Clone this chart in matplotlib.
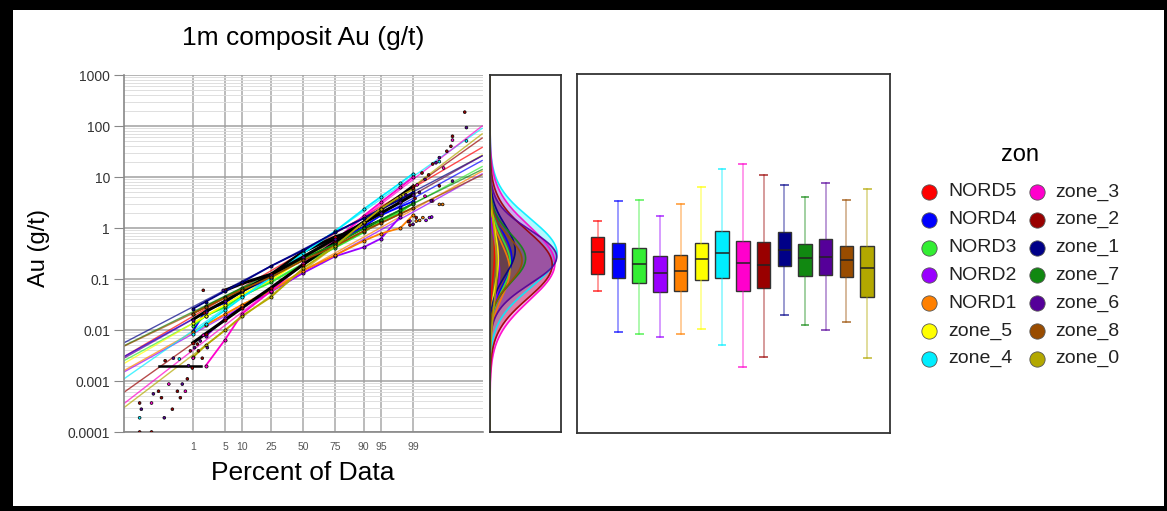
import numpy as np
import matplotlib.pyplot as plt
from matplotlib.lines import Line2D
from matplotlib.patches import Rectangle
from matplotlib.ticker import LogLocator, NullFormatter
from statistics import NormalDist

plt.rcParams['font.family'] = ['Liberation Sans', 'DejaVu Sans']

nan = np.nan

# zonas y colores
zones = ['NORD5', 'NORD4', 'NORD3', 'NORD2', 'NORD1', 'zone_5', 'zone_4',
         'zone_3', 'zone_2', 'zone_1', 'zone_7', 'zone_6', 'zone_8', 'zone_0']
colors = ['#ff0000', '#0000ff', '#33ee33', '#9900ff', '#ff8000', '#ffff00', '#00eeff',
          '#ff00cc', '#990000', '#000088', '#118811', '#550099', '#994c00', '#b3a800']

# estadisticas del boxplot (g/t)
whis_lo = [0.06, 0.0094, 0.0087, 0.0075, 0.0087, 0.0106, 0.0052, 0.0019, 0.003, 0.02, 0.013, 0.0102, 0.0148, 0.0029]
q1 = [0.124, 0.105, 0.086, 0.0565, 0.058, 0.0955, 0.106, 0.058, 0.0675, 0.18, 0.1145, 0.1215, 0.109, 0.0444]
med = [0.338, 0.25, 0.197, 0.131, 0.146, 0.247, 0.319, 0.203, 0.191, 0.365, 0.254, 0.27, 0.232, 0.162]
q3 = [0.667, 0.508, 0.41, 0.278, 0.291, 0.515, 0.86, 0.556, 0.524, 0.822, 0.479, 0.617, 0.438, 0.438]
whis_hi = [1.39, 3.34, 3.54, 1.67, 2.91, 6.37, 13.9, 17.2, 10.9, 6.97, 3.99, 7.39, 3.49, 5.82]
n_samples = [60, 270, 250, 120, 250, 110, 1100, 1150, 1000, 300, 400, 850, 350, 120]

# rectas de ajuste lognormal: valor en los extremos del eje de probabilidad
fit_pct = [0.0078, 99.9922]
fit_lo = [0.003, 0.003, 0.0025, 0.0015, 0.0016, 0.0022, 0.0011, 0.00036, 0.0006, 0.0056, 0.0049, 0.0028, 0.0048, 0.0003]
fit_hi = [38, 21, 16, 11.5, 13, 27, 90, 100, 58, 26, 14, 26, 11, 70]

# curvas de datos (percentiles)
curve_pct = [1, 2, 5, 10, 25, 50, 75, 90, 95, 98, 99]
curve_vals = [
    [nan, nan, 0.06, 0.082, 0.124, 0.34, 0.67, 1.0, 1.39, nan, nan],
    [0.0094, 0.024, 0.034, 0.058, 0.105, 0.25, 0.51, 1.05, 1.8, 2.6, 3.34],
    [0.012, 0.019, 0.028, 0.047, 0.086, 0.197, 0.41, 0.82, 1.4, 2.0, 3.1],
    [nan, 0.0075, 0.017, 0.029, 0.0565, 0.131, 0.278, 0.42, 0.62, 1.67, nan],
    [0.0091, 0.0126, 0.0204, 0.0316, 0.058, 0.146, 0.291, 0.56, 0.78, 1.0, 1.8],
    [0.0135, 0.019, 0.0316, 0.05, 0.0955, 0.247, 0.515, 1.23, 1.9, 3.2, 4.6],
    [0.0085, 0.0132, 0.0246, 0.0437, 0.106, 0.319, 0.86, 2.34, 4.1, 7.6, 11.7],
    [nan, 0.002, 0.0065, 0.021, 0.058, 0.203, 0.556, 1.74, 3.2, 6.3, 10],
    [0.0056, 0.0085, 0.0158, 0.0275, 0.0675, 0.191, 0.524, 1.32, 2.34, 4.3, 6.6],
    [0.026, 0.036, 0.058, 0.087, 0.18, 0.365, 0.822, 1.55, 2.34, 3.6, 5.0],
    [0.021, 0.029, 0.045, 0.066, 0.1145, 0.254, 0.479, 0.98, 1.45, 2.24, 3.0],
    [0.016, 0.023, 0.037, 0.058, 0.1215, 0.27, 0.617, 1.26, 1.95, 3.2, 4.5],
    [0.021, 0.028, 0.043, 0.062, 0.109, 0.232, 0.438, 0.87, 1.26, 1.9, 2.5],
    [0.0029, 0.005, 0.01, 0.019, 0.0444, 0.162, 0.438, 1.3, 2.4, 4.2, 5.8],
]
black_chain = ['NORD5', 'zone_2', 'zone_6']

# limite de deteccion (0.002 g/t)
dl_pct = [0.12, 1.6]
dl_val = [0.002, 0.002]

# puntos sueltos en las colas
tail_pct = [0.028, 0.032, 0.028, 0.028, 0.069, 0.069, 0.079, 0.114, 0.14, 0.17, 0.18, 0.23,
            0.29, 0.31, 0.40, 0.45, 0.48, 0.54, 0.65, 0.73, 0.78, 0.87, 0.97, 1.02, 1.1,
            1.29, 1.36, 1.5, 1.67, 1.76, 1.86, 2.17, 1.76, 4.6,
            99.968, 99.972, 99.972, 99.92, 99.92, 99.88, 99.80, 99.80, 99.69, 99.92,
            99.80, 99.69, 99.80, 99.62, 99.43, 99.16, 98.8, 98.8, 99.91, 99.75, 99.85,
            99.66, 99.84, 99.67, 99.53, 99.31, 99.16, 98.99, 98.7, 99.4, 99.5, 99.2,
            99.6, 99.3, 99.0, 98.5, 99.1, 99.5]
tail_val = [0.00037, 0.00028, 0.00019, 0.0001, 0.0001, 0.00037, 0.00056, 0.00063, 0.00047,
            0.00019, 0.0025, 0.00087, 0.00028, 0.0028, 0.00063, 0.0027, 0.00047, 0.00087,
            0.00063, 0.0011, 0.002, 0.0039, 0.0018, 0.0028, 0.0045, 0.0053, 0.0039, 0.0061,
            0.0028, 0.0079, 0.0215, 0.0045, 0.06, 0.06,
            187, 93, 51, 63, 53, 32, 24, 20, 18, 8.3, 6.7, 3.4, 2.9, 1.6, 1.6, 1.37, 1.37,
            1.14, 40, 19, 15, 3.4, 2.9, 1.64, 1.41, 1.41, 1.6, 1.18, 1.33, 12, 9, 7, 11,
            5, 6, 4.5, 3.8, 4.2]
tail_zone = ['zone_2', 'zone_6', 'zone_4', 'zone_2', 'zone_2', 'zone_3', 'zone_6', 'zone_2',
             'zone_2', 'zone_6', 'zone_2', 'zone_3', 'zone_2', 'zone_6', 'zone_2', 'zone_4',
             'zone_2', 'zone_6', 'zone_3', 'zone_2', 'zone_6', 'zone_2', 'zone_2', 'zone_3',
             'zone_6', 'zone_2', 'zone_2', 'zone_6', 'zone_2', 'zone_3', 'zone_2', 'zone_6',
             'zone_2', 'zone_6',
             'zone_2', 'zone_6', 'zone_4', 'zone_2', 'zone_3', 'zone_2', 'zone_6', 'zone_4',
             'zone_2', 'zone_6', 'zone_2', 'zone_3', 'NORD1', 'NORD2', 'NORD1', 'NORD1',
             'NORD2', 'zone_2', 'zone_2', 'zone_6', 'zone_3', 'zone_6', 'NORD1', 'NORD2',
             'NORD2', 'NORD1', 'zone_2', 'zone_6', 'zone_2', 'zone_2', 'zone_6', 'zone_3',
             'zone_2', 'zone_6', 'zone_2', 'zone_6', 'zone_2', 'zone_3']

tick_pct = [1, 5, 10, 25, 50, 75, 90, 95, 99]
y_ticks = [1e-4, 1e-3, 1e-2, 1e-1, 1, 10, 100, 1000]
y_labels = ['0.0001', '0.001', '0.01', '0.1', '1', '10', '100', '1000']

nd = NormalDist()


def to_z(pcts):
    return np.array([nd.inv_cdf(p / 100) for p in pcts])


cmap = dict(zip(zones, colors))
W, H = 1167, 511

fig = plt.figure(figsize=(W / 100, H / 100), dpi=100, facecolor='black')
fig.add_artist(Rectangle((13 / W, 5 / H), (1164 - 13) / W, (511 - 15) / H,
                         transform=fig.transFigure, facecolor='white', edgecolor='none', zorder=-5))


def fig_rect(l, t, r, b):
    return [l / W, 1 - b / H, (r - l) / W, (b - t) / H]


# --- grafico de probabilidad ---
ax = fig.add_axes(fig_rect(124, 75, 483, 432))
ax.set_yscale('log')
ax.set_ylim(1e-4, 1e3)
ax.set_xlim(-3.78, 3.80)
ax.set_axisbelow(True)

for i, name in enumerate(zones):
    ax.plot(to_z(fit_pct), [fit_lo[i], fit_hi[i]], color=colors[i], lw=1.0, alpha=0.7, zorder=2)

ax.plot(to_z(dl_pct), dl_val, color='black', lw=1.8, zorder=4)

for i, name in enumerate(zones):
    c = 'black' if name in black_chain else colors[i]
    lw = 2.2 if name in black_chain else 1.3
    ax.plot(to_z(curve_pct), curve_vals[i], color=c, lw=lw, zorder=3)
    ax.plot(to_z(curve_pct), curve_vals[i], ls='none', marker='o', ms=2.3,
            mfc=colors[i], mec='black', mew=0.5, zorder=4)

ax.scatter(to_z(tail_pct), tail_val, s=4, c=[cmap[z] for z in tail_zone],
           edgecolors='black', linewidths=0.5, zorder=5)

ax.set_xticks(to_z(tick_pct), labels=[str(p) for p in tick_pct])
ax.set_yticks(y_ticks, labels=y_labels)
ax.yaxis.set_minor_locator(LogLocator(base=10, subs=range(2, 10), numticks=20))
ax.yaxis.set_minor_formatter(NullFormatter())
ax.grid(axis='x', color='#a8a8a8', lw=1.1)
ax.grid(axis='y', which='major', color='#a0a0a0', lw=1.1)
ax.grid(axis='y', which='minor', color='#dedede', lw=0.7)
ax.tick_params(axis='y', which='major', direction='out', length=7, color='#888888',
               labelsize=10, labelcolor='#333333', pad=3)
ax.tick_params(axis='y', which='minor', length=0)
ax.tick_params(axis='x', length=0, pad=7, labelsize=7.5, labelcolor='#555555')
for s in ['top', 'right']:
    ax.spines[s].set_visible(False)
for s in ['left', 'bottom']:
    ax.spines[s].set_color('#888888')
    ax.spines[s].set_linewidth(1.2)

# --- densidades ---
axd = fig.add_axes(fig_rect(490, 75, 561, 432), sharey=ax)
L = np.linspace(-4, 3, 500)
dens_max = 0
for i, name in enumerate(zones):
    mu = np.log10(med[i])
    sd = (np.log10(q3[i]) - np.log10(q1[i])) / 1.349
    d = n_samples[i] * np.exp(-0.5 * ((L - mu) / sd) ** 2) / (sd * np.sqrt(2 * np.pi))
    dens_max = max(dens_max, d.max())
    axd.fill_betweenx(10 ** L, 0, d, color=colors[i], alpha=0.3, lw=0)
    axd.plot(d, 10 ** L, color=colors[i], lw=1.2, alpha=0.9)
axd.set_xlim(0, dens_max * 1.06)
axd.tick_params(left=False, bottom=False, labelleft=False, labelbottom=False,
                which='both')
for s in axd.spines.values():
    s.set_color('#333333')
    s.set_linewidth(1.3)

# --- boxplot ---
axb = fig.add_axes(fig_rect(577, 74, 890, 433))
axb.set_yscale('log')
axb.set_ylim(1e-4, 1e3)
stats = [dict(whislo=whis_lo[i], q1=q1[i], med=med[i], q3=q3[i], whishi=whis_hi[i], label=z)
         for i, z in enumerate(zones)]
bp = axb.bxp(stats, positions=range(len(zones)), widths=0.65, patch_artist=True,
             showfliers=False)
for i, c in enumerate(colors):
    bp['boxes'][i].set(facecolor=c, edgecolor='#333333', linewidth=1.0)
    bp['medians'][i].set(color='#222222', linewidth=1.1)
    for w in bp['whiskers'][2 * i:2 * i + 2]:
        w.set(color=c, linewidth=1.1, alpha=0.5)
    for cp in bp['caps'][2 * i:2 * i + 2]:
        cp.set(color=c, linewidth=1.4, alpha=0.65)
axb.set_xlim(-1.0, 14.1)
axb.tick_params(left=False, bottom=False, labelleft=False, labelbottom=False, which='both')
for s in axb.spines.values():
    s.set_color('#333333')
    s.set_linewidth(1.3)

# --- textos ---
fig.text(303 / W, 1 - 38 / H, '1m composit Au (g/t)', ha='center', va='center', fontsize=19)
fig.text(303 / W, 1 - 473 / H, 'Percent of Data', ha='center', va='center', fontsize=19)
fig.text(39 / W, 1 - 248 / H, 'Au (g/t)', ha='center', va='center', fontsize=17, rotation=90)

# --- leyenda ---
fig.text(1020 / W, 1 - 155 / H, 'zon', ha='center', va='center', fontsize=17)
for i, (name, c) in enumerate(zip(zones, colors)):
    col, row = divmod(i, 7)
    xm = [929, 1037][col]
    xt = [948, 1055][col]
    y = 1 - (192 + 27.8 * row) / H
    fig.add_artist(Line2D([xm / W], [y], ls='none', marker='o', ms=11, mfc=c,
                          mec='#555555', mew=0.6, transform=fig.transFigure))
    fig.text(xt / W, y, name, ha='left', va='center', fontsize=14, color='#222222')

fig.savefig('out.png', dpi=100, facecolor=fig.get_facecolor())
